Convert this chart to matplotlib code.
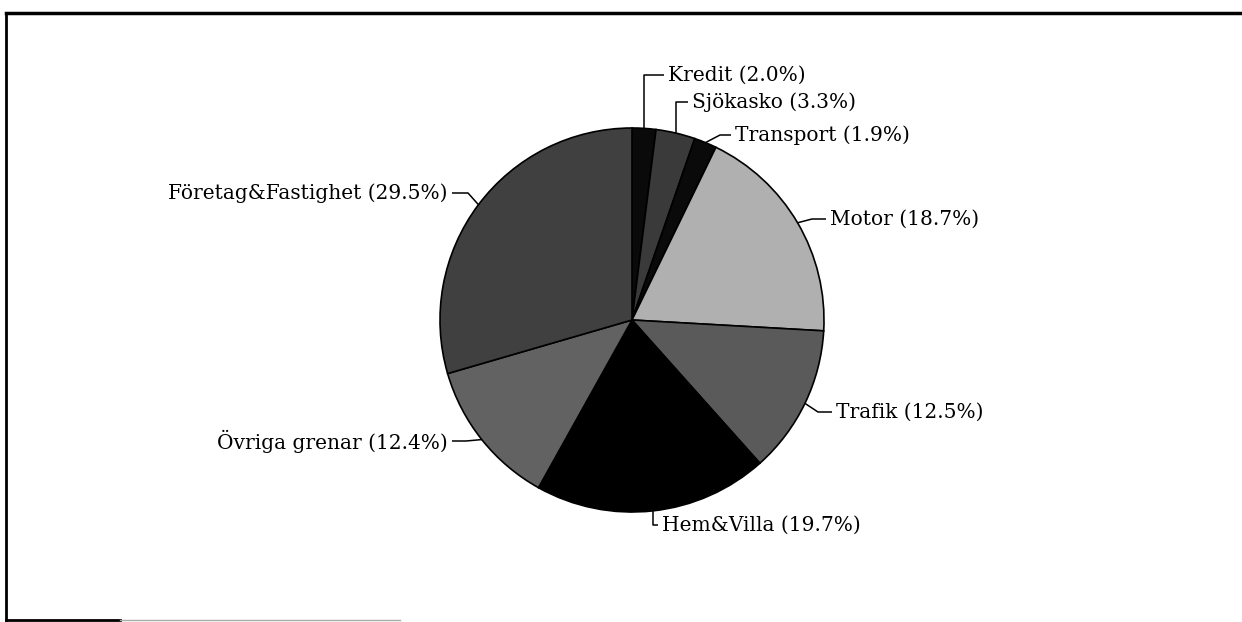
import numpy as np
import matplotlib
matplotlib.use("Agg")
import matplotlib.pyplot as plt

# shares per line of business, clockwise from 12 o'clock
branches = ["Kredit", "Sjökasko", "Transport", "Motor", "Trafik",
            "Hem&Villa", "Övriga grenar", "Företag&Fastighet"]
shares = [2.0, 3.3, 1.9, 18.7, 12.5, 19.7, 12.4, 29.5]
shades = ["#0a0a0a", "#3a3a3a", "#0a0a0a", "#b0b0b0", "#5a5a5a",
          "#000000", "#626262", "#404040"]

W, H = 1242, 622
cx, cy, R = 632, 320, 192   # pie centre / radius in pixels

fig = plt.figure(figsize=(W / 100, H / 100), dpi=100)
ax = fig.add_axes([0, 0, 1, 1])

wedges, _ = ax.pie(shares, colors=shades, startangle=90, counterclock=False,
                   radius=1, wedgeprops=dict(edgecolor="black", linewidth=1.2))
ax.set_xlim(-cx / R, (W - cx) / R)
ax.set_ylim(-(H - cy) / R, cy / R)
ax.set_aspect("auto")
ax.axis("off")

def px(x, y):
    # pixel position -> data units
    return (x - cx) / R, (cy - y) / R

# label anchor (text start/end in pixels), elbow point, alignment
label_pos = {
    "Kredit": ((668, 75), "v", "left"),
    "Sjökasko": ((692, 102), "v", "left"),
    "Transport": ((735, 135), (720, 135), "left"),
    "Motor": ((830, 219), (812, 219), "left"),
    "Trafik": ((836, 412), (818, 412), "left"),
    "Hem&Villa": ((662, 525), "v", "left"),
    "Övriga grenar": ((448, 441), (466, 441), "right"),
    "Företag&Fastighet": ((448, 193), (468, 193), "right"),
}

for w, name, val in zip(wedges, branches, shares):
    mid = np.deg2rad((w.theta1 + w.theta2) / 2)
    ax0, ay0 = np.cos(mid), np.sin(mid)
    (tx, ty), elbow, ha = label_pos[name]
    tx, ty = px(tx, ty)
    gap = 4 / R
    end_x = tx - gap if ha == "left" else tx + gap
    if elbow == "v":
        ex, ey = ax0, ty
    else:
        ex, ey = px(*elbow)
    ax.plot([ax0, ex, end_x], [ay0, ey, ty], color="black", lw=1.1,
            solid_capstyle="butt")
    ax.text(tx, ty, f"{name} ({val:.1f}%)", ha=ha, va="center",
            fontsize=14.5, family="DejaVu Serif", color="black")

# scanned frame around the chart
fig.add_artist(plt.Line2D([6 / W, 1], [1 - 13 / H, 1 - 13 / H], color="black", lw=2.5))
fig.add_artist(plt.Line2D([6 / W, 6 / W], [1 - 13 / H, 1 - 620 / H], color="black", lw=2))
fig.add_artist(plt.Line2D([6 / W, 120 / W], [1 - 620 / H, 1 - 620 / H], color="black", lw=2))
fig.add_artist(plt.Line2D([120 / W, 400 / W], [1 - 620 / H, 1 - 620 / H], color="#aaaaaa", lw=1))

fig.savefig("out.png", dpi=100, facecolor="white")
